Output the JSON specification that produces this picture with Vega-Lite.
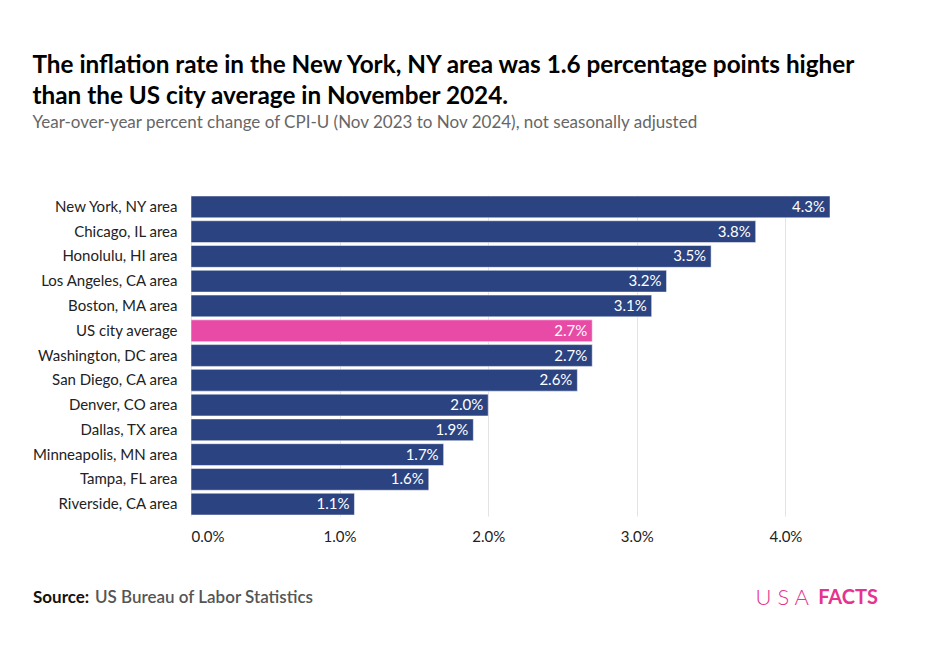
{
  "$schema": "https://vega.github.io/schema/vega-lite/v6.json",
  "background": "white",
  "padding": {"left": 32, "top": 53, "right": 20, "bottom": 10},
  "title": {
    "text": ["The inflation rate in the New York, NY area was 1.6 percentage points higher", "than the US city average in November 2024."],
    "subtitle": "Year-over-year percent change of CPI-U (Nov 2023 to Nov 2024), not seasonally adjusted",
    "anchor": "start",
    "font": "Lato",
    "fontSize": 24.3,
    "fontWeight": "bold",
    "color": "#000000",
    "lineHeight": 31,
    "subtitleFont": "Lato",
    "subtitleFontSize": 17,
    "subtitleColor": "#666666",
    "subtitlePadding": 6,
    "offset": 64
  },
  "config": {"font": "Lato", "view": {"stroke": null}},
  "spacing": 43,
  "vconcat": [
    {
      "width": 639,
      "height": 321,
      "data": {"values": [
        {"city": "New York, NY area", "value": 0.043, "group": "city"},
        {"city": "Chicago, IL area", "value": 0.038, "group": "city"},
        {"city": "Honolulu, HI area", "value": 0.035, "group": "city"},
        {"city": "Los Angeles, CA area", "value": 0.032, "group": "city"},
        {"city": "Boston, MA area", "value": 0.031, "group": "city"},
        {"city": "US city average", "value": 0.027, "group": "avg"},
        {"city": "Washington, DC area", "value": 0.027, "group": "city"},
        {"city": "San Diego, CA area", "value": 0.026, "group": "city"},
        {"city": "Denver, CO area", "value": 0.020, "group": "city"},
        {"city": "Dallas, TX area", "value": 0.019, "group": "city"},
        {"city": "Minneapolis, MN area", "value": 0.017, "group": "city"},
        {"city": "Tampa, FL area", "value": 0.016, "group": "city"},
        {"city": "Riverside, CA area", "value": 0.011, "group": "city"}
      ]},
      "encoding": {
        "y": {"field": "city", "type": "nominal", "sort": null,
          "scale": {"paddingInner": 0.12, "paddingOuter": 0.04},
          "axis": {"title": null, "ticks": false, "domain": false, "labelFontSize": 15, "labelColor": "#222222", "labelPadding": 14, "labelFont": "Lato"}},
        "x": {"field": "value", "type": "quantitative",
          "scale": {"domain": [0, 0.043], "nice": false},
          "axis": {"title": null, "values": [0, 0.01, 0.02, 0.03, 0.04], "format": ".1%", "ticks": false, "domain": false, "grid": true, "gridColor": "#e3e3e3", "labelFontSize": 15, "labelColor": "#222222", "labelPadding": 13, "labelFont": "Lato"}}
      },
      "layer": [
        {
          "mark": {"type": "bar", "stroke": "#ffffff", "strokeWidth": 0.5},
          "encoding": {
            "color": {"field": "group", "type": "nominal", "scale": {"domain": ["city", "avg"], "range": ["#2b4381", "#e84ba6"]}, "legend": null}
          }
        },
        {
          "mark": {"type": "text", "align": "right", "baseline": "middle", "dx": -5, "color": "#ffffff", "fontSize": 15, "font": "Lato"},
          "encoding": {"text": {"field": "value", "type": "quantitative", "format": ".1%"}}
        }
      ]
    },
    {
      "width": 687,
      "height": 20,
      "data": {"values": [{}]},
      "encoding": {"x": {"datum": 0, "type": "quantitative", "scale": {"domain": [0, 1]}, "axis": null}},
      "layer": [
        {"mark": {"type": "text", "align": "left", "baseline": "middle", "dx": -158, "fontSize": 17, "fontWeight": "bold", "color": "#111111", "font": "Lato", "text": "Source:"},
         "encoding": {"x": {"datum": 0, "type": "quantitative"}}},
        {"mark": {"type": "text", "align": "left", "baseline": "middle", "dx": -96, "fontSize": 17, "fontWeight": 600, "color": "#555555", "font": "Lato", "text": "US Bureau of Labor Statistics"},
         "encoding": {"x": {"datum": 0, "type": "quantitative"}}},
        {"mark": {"type": "text", "align": "right", "baseline": "middle", "fontSize": 20, "fontWeight": "bold", "color": "#e6338f", "font": "Lato", "text": "FACTS"},
         "encoding": {"x": {"datum": 1, "type": "quantitative"}}},
        {"mark": {"type": "text", "align": "right", "baseline": "middle", "dx": -69, "fontSize": 22, "fontWeight": 300, "color": "#e6338f", "font": "Lato", "text": "U S A"},
         "encoding": {"x": {"datum": 1, "type": "quantitative"}}}
      ]
    }
  ]
}
